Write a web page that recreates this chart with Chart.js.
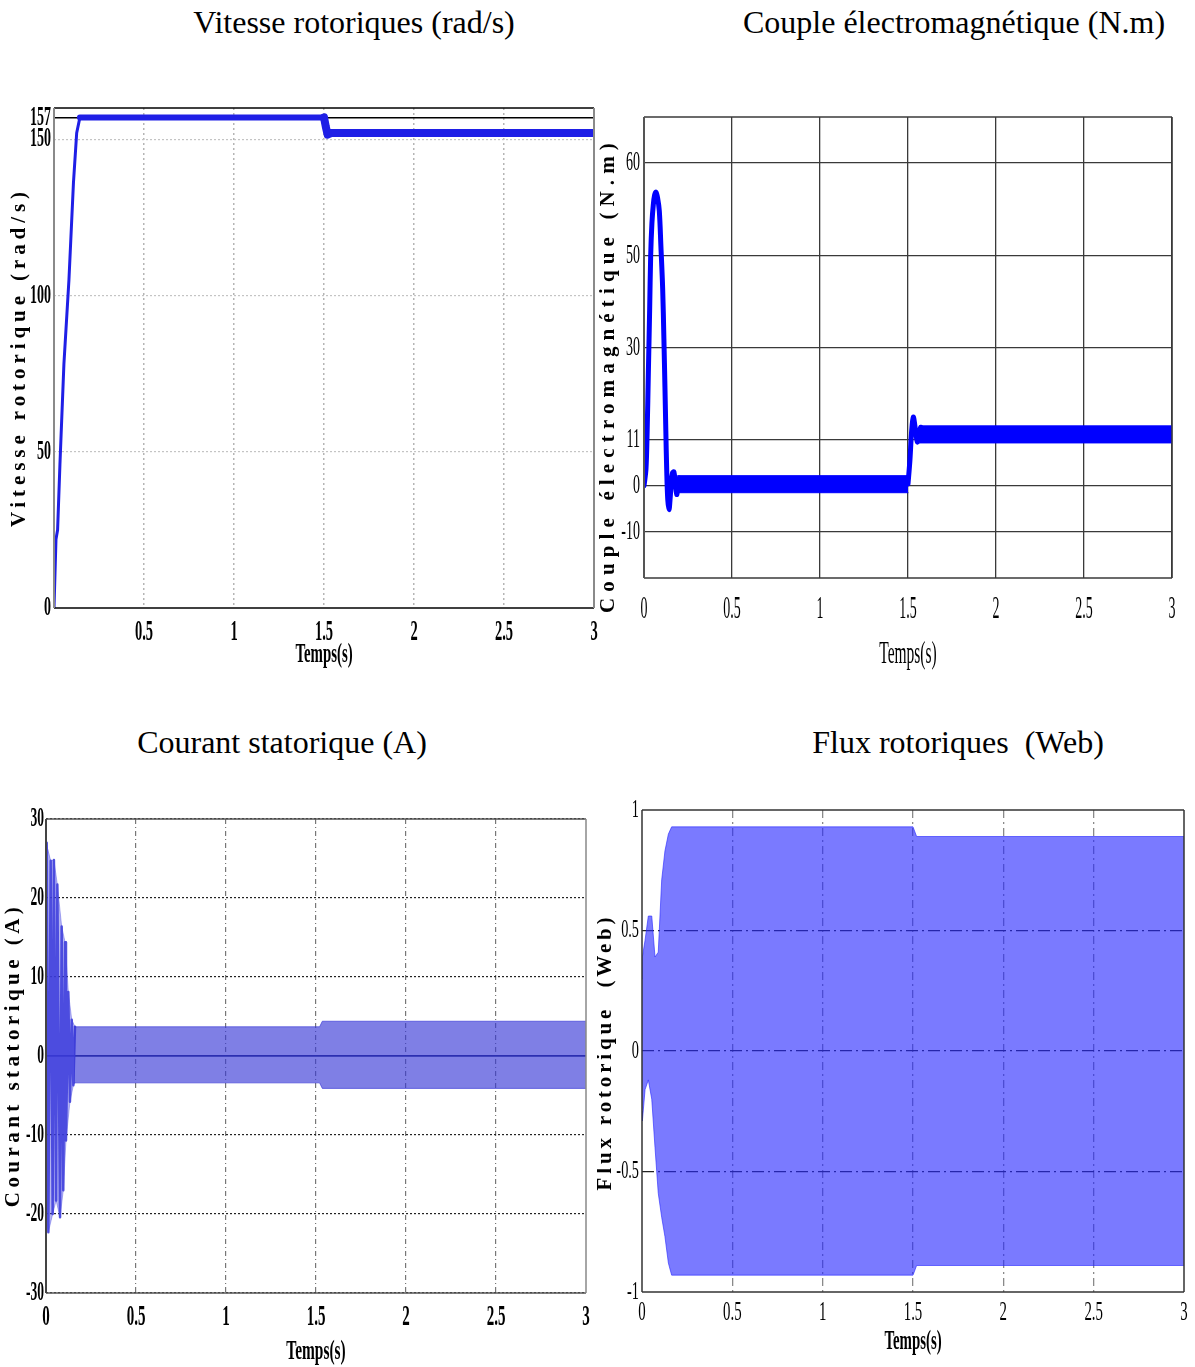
<!DOCTYPE html>
<html>
<head>
<meta charset="utf-8">
<script src="https://cdn.jsdelivr.net/npm/chart.js@4.4.1/dist/chart.umd.min.js"></script>
<style>
    body { margin: 0; background: #fff; width: 1195px; height: 1367px; position: relative; overflow: hidden; font-family: 'Liberation Serif', serif; }
    .heading { position: absolute; width: 600px; text-align: center; font-size: 32px; line-height: 38px; color: #000; white-space: pre; }
    canvas { position: absolute; }
</style>
</head>
<body>
<div class="heading" style="left:54px;top:3px">Vitesse rotoriques (rad/s)</div>
<div class="heading" style="left:654px;top:3px">Couple électromagnétique (N.m)</div>
<div class="heading" style="left:-18px;top:723px">Courant statorique (A)</div>
<div class="heading" style="left:658px;top:723px">Flux rotoriques  (Web)</div>

<canvas id="speed" width="600" height="600" style="left:0;top:80px"></canvas>
<canvas id="torque" width="598" height="600" style="left:597px;top:80px"></canvas>
<canvas id="current" width="600" height="577" style="left:0;top:790px"></canvas>
<canvas id="flux" width="598" height="577" style="left:597px;top:790px"></canvas>

<script>
'use strict'

const timeTicks = [0, 0.5, 1, 1.5, 2, 2.5, 3]

// vitesse rotorique (rad/s)
const speedTime = [0, 0.011, 0.02, 0.033, 0.055, 0.083, 0.108, 0.126, 0.144, 0.16, 0.8, 1.5, 1.51, 1.52, 1.54, 3]
const speedValues = [0, 22, 25, 46, 78, 105, 136, 152, 157, 157, 157, 157, 154, 151.5, 152, 152]
const speedTicks = [0, 50, 100, 150, 157]

// couple electromagnetique (N.m)
const torqueStartTime = [0, 0.011, 0.018, 0.025, 0.032, 0.038, 0.045, 0.053, 0.06, 0.068, 0.077, 0.087, 0.096, 0.106, 0.113, 0.119, 0.124, 0.129, 0.135, 0.142, 0.148, 0.155, 0.162, 0.17, 0.178, 0.186, 0.193, 0.2]
const torqueStartValues = [0, 3.5, 12, 25, 38, 50, 57, 61, 63, 63.7, 62.5, 59.6, 52, 42.8, 32, 21.4, 12, 3.5, -3, -5.2, -3, 0.6, 2.8, 3.0, 0.5, -1.9, 0, 1.7]
const torqueStepTime = [1.5, 1.511, 1.52, 1.53, 1.541, 1.553, 1.562, 1.572]
const torqueStepValues = [0.4, 5.6, 11.5, 14.9, 12.5, 9.5, 11.5, 12.7]
const torqueBand1Time = [0.19, 1.5]
const torqueBand1Upper = [2.2, 2.2]
const torqueBand1Lower = [-1.5, -1.5]
const torqueBand2Time = [1.565, 3]
const torqueBand2Upper = [13, 13]
const torqueBand2Lower = [9.3, 9.3]
const torqueTickValues = [-10, 0, 10, 30, 50, 70]
const torqueTickLabels = ['-10', '0', '11', '30', '50', '60']

// courant statorique (A)
const currentPeakTime = [0, 0.004, 0.013, 0.026, 0.037, 0.044, 0.056, 0.063, 0.078, 0.087, 0.096, 0.106, 0.111, 0.124, 0.133, 0.143, 0.152, 0.161]
const currentPeakValues = [0, 27, -22.3, 24.7, -20, 24.8, -18.3, 21.7, -20.4, 16.4, -17, 14.4, -10.7, 8.1, -5.8, 4.6, -3.7, 3.7]
const currentTopTime = [0, 0.004, 0.026, 0.044, 0.063, 0.087, 0.106, 0.124, 0.143, 0.161]
const currentTopValues = [27, 27, 24.7, 24.8, 21.7, 16.4, 14.4, 8.1, 4.6, 3.7]
const currentBottomTime = [0, 0.013, 0.037, 0.056, 0.078, 0.096, 0.111, 0.133, 0.152, 0.161]
const currentBottomValues = [-20, -22.3, -20, -18.3, -20.4, -17, -10.7, -5.8, -3.7, -3.4]
const currentBandTime = [0.155, 1.52, 1.535, 3]
const currentUpper = [3.7, 3.7, 4.4, 4.4]
const currentLower = [-3.4, -3.4, -4.1, -4.1]
const currentTicks = [-30, -20, -10, 0, 10, 20, 30]

// flux rotorique (Web)
const fluxTime = [0, 0.002, 0.017, 0.035, 0.054, 0.072, 0.09, 0.109, 0.127, 0.146, 0.164, 1.5, 1.52, 3]
const fluxUpper = [0.3, 0.39, 0.46, 0.56, 0.56, 0.39, 0.41, 0.71, 0.83, 0.9, 0.93, 0.93, 0.89, 0.89]
const fluxLower = [-0.25, -0.29, -0.16, -0.12, -0.2, -0.4, -0.59, -0.69, -0.77, -0.88, -0.93, -0.93, -0.89, -0.89]
const fluxTicks = [-1, -0.5, 0, 0.5, 1]


const SERIF = '"Liberation Serif", "Times New Roman", serif'

function pts(xs, ys) {
    return xs.map((x, i) => ({ x: x, y: ys[i] }))
}

function squashed(ctx, text, x, y, font, sx, align) {
    ctx.save()
    ctx.font = font
    ctx.fillStyle = '#000'
    ctx.textAlign = align
    ctx.textBaseline = 'middle'
    ctx.translate(x, y)
    ctx.scale(sx, 1)
    ctx.fillText(text, 0, 0)
    ctx.restore()
}

function edge(ctx, x1, y1, x2, y2, style) {
    ctx.save()
    ctx.strokeStyle = style[0]
    ctx.lineWidth = style[1]
    ctx.beginPath()
    ctx.moveTo(x1, y1)
    ctx.lineTo(x2, y2)
    ctx.stroke()
    ctx.restore()
}

// matlab-like box, narrow tick labels and spaced y title
const matlabLook = {
    id: 'matlab',
    afterDatasetsDraw(chart, args, o) {
        const { ctx, chartArea: a } = chart
        edge(ctx, a.left, a.top, a.right, a.top, o.box.top)
        edge(ctx, a.left, a.bottom, a.right, a.bottom, o.box.bottom)
        edge(ctx, a.left, a.top, a.left, a.bottom, o.box.left)
        edge(ctx, a.right, a.top, a.right, a.bottom, o.box.right)
    },
    afterDraw(chart, args, o) {
        const { ctx, chartArea: a, scales: { x, y } } = chart
        y.ticks.forEach(t => {
            squashed(ctx, t.label, a.left - o.yGap, y.getPixelForValue(t.value), o.yFont, o.ySquash, 'right')
        })
        x.ticks.forEach(t => {
            if (o.skipZero && t.value === 0) return
            squashed(ctx, t.label, x.getPixelForValue(t.value), a.bottom + o.xGap, o.xFont, o.xSquash, 'center')
        })
        squashed(ctx, 'Temps(s)', (a.left + a.right) / 2, a.bottom + o.xTitleGap, o.xTitleFont, o.xTitleSquash, 'center')

        ctx.save()
        ctx.font = o.yTitleFont
        ctx.fillStyle = '#000'
        ctx.letterSpacing = '0px'
        const natural = ctx.measureText(o.yTitle).width
        const gap = Math.max(0, (o.yTitleSpan - natural) / (o.yTitle.length - 1))
        ctx.letterSpacing = gap.toFixed(2) + 'px'
        ctx.translate(o.yTitleX, o.yTitleY)
        ctx.rotate(-Math.PI / 2)
        ctx.textAlign = 'center'
        ctx.textBaseline = 'middle'
        ctx.fillText(o.yTitle, 0, 0)
        ctx.restore()
    }
}

const plain = v => String(v)

function xScale(grid) {
    return {
        type: 'linear',
        min: 0,
        max: 3,
        afterBuildTicks: axis => { axis.ticks = timeTicks.map(v => ({ value: v })) },
        ticks: { display: false, callback: plain },
        grid: Object.assign({ drawTicks: false }, grid.grid),
        border: Object.assign({ display: false }, grid.border),
        afterFit: s => { s.height = 0 }
    }
}

function yScale(min, max, ticks, grid, cb) {
    return {
        type: 'linear',
        min: min,
        max: max,
        afterBuildTicks: axis => { axis.ticks = ticks.map(v => ({ value: v })) },
        ticks: { display: false, callback: cb || plain },
        grid: Object.assign({ drawTicks: false }, grid.grid),
        border: Object.assign({ display: false }, grid.border),
        afterFit: s => { s.width = 0 }
    }
}

function makeChart(id, datasets, padding, x, y, look) {
    const canvas = document.getElementById(id)
    return new Chart(canvas.getContext('2d'), {
        type: 'line',
        data: { datasets: datasets },
        options: {
            responsive: false,
            animation: false,
            layout: { padding: padding },
            elements: { point: { radius: 0 }, line: { tension: 0, borderJoinStyle: 'round', borderCapStyle: 'round' } },
            scales: { x: x, y: y },
            plugins: {
                legend: { display: false },
                tooltip: { enabled: false },
                matlab: look
            }
        },
        plugins: [matlabLook]
    })
}

function band(time, upper, lower, color, lowerTime) {
    return [
        { data: pts(time, upper), borderColor: color, borderWidth: 1, fill: false },
        { data: pts(lowerTime || time, lower), borderColor: color, borderWidth: 1, backgroundColor: color, fill: '-1' }
    ]
}


// ---- vitesse
makeChart('speed', [{
    data: pts(speedTime, speedValues),
    borderColor: '#1f1fe6',
    borderWidth: 6,
    fill: false,
    segment: {
        borderWidth: c => c.p0.parsed.x < 0.14 ? 3 : (c.p0.parsed.x >= 1.5 ? 8 : 6)
    }
}], { left: 54, top: 28, right: 6, bottom: 72 },
    xScale({
        grid: { color: c => (c.tick && (c.tick.value === 0 || c.tick.value === 3)) ? 'rgba(0,0,0,0)' : '#b5b5b5', lineWidth: 1.5 },
        border: { dash: [2, 3] }
    }),
    yScale(0, 160, speedTicks, {
        grid: { color: c => c.tick && c.tick.value === 157 ? '#000' : (c.tick && c.tick.value === 0 ? 'rgba(0,0,0,0)' : '#c4c4c4'), lineWidth: c => c.tick && c.tick.value === 157 ? 1.5 : 1.2 },
        border: { dash: c => c.tick && c.tick.value === 157 ? [] : [2, 2] }
    }),
    {
        box: { top: ['#000', 1.5], bottom: ['#000', 1.5], left: ['#8a8a8a', 2], right: ['#8a8a8a', 2] },
        yGap: 3, yFont: 'bold 28px ' + SERIF, ySquash: 0.5,
        xGap: 25, xFont: 'bold 29px ' + SERIF, xSquash: 0.5, skipZero: true,
        xTitleGap: 47, xTitleFont: 'bold 27px ' + SERIF, xTitleSquash: 0.55,
        yTitle: 'Vitesse rotorique (rad/s)', yTitleFont: 'bold 21px ' + SERIF,
        yTitleSpan: 335, yTitleX: 20, yTitleY: 277
    })

// ---- couple
makeChart('torque', [
    ...band(torqueBand1Time, torqueBand1Upper, torqueBand1Lower, '#0000ff'),
    ...band(torqueBand2Time, torqueBand2Upper, torqueBand2Lower, '#0000ff'),
    { data: pts(torqueStartTime, torqueStartValues), borderColor: '#0000ff', borderWidth: 5, fill: false, tension: 0.35 },
    { data: pts(torqueStepTime, torqueStepValues), borderColor: '#0000ff', borderWidth: 5, fill: false, tension: 0.35 }
], { left: 47, top: 37, right: 23, bottom: 102 },
    xScale({ grid: { color: '#3a3a3a', lineWidth: 1.3 }, border: { dash: [] } }),
    yScale(-20, 80, torqueTickValues, { grid: { color: '#3a3a3a', lineWidth: 1.3 }, border: { dash: [] } },
        v => torqueTickLabels[torqueTickValues.indexOf(v)]),
    {
        box: { top: ['#3a3a3a', 1.5], bottom: ['#3a3a3a', 1.5], left: ['#555', 2], right: ['#3a3a3a', 1.5] },
        yGap: 4, yFont: '28px ' + SERIF, ySquash: 0.5,
        xGap: 32, xFont: '31px ' + SERIF, xSquash: 0.45, skipZero: false,
        xTitleGap: 77, xTitleFont: '31px ' + SERIF, xTitleSquash: 0.5,
        yTitle: 'Couple électromagnétique (N.m)', yTitleFont: 'bold 21px ' + SERIF,
        yTitleSpan: 470, yTitleX: 12, yTitleY: 295
    })

// ---- courant
makeChart('current', [
    ...band(currentBandTime, currentUpper, currentLower, 'rgba(55,55,215,0.64)'),
    ...band(currentTopTime, currentTopValues, currentBottomValues, 'rgba(70,70,225,0.4)', currentBottomTime),
    { data: pts(currentPeakTime, currentPeakValues), borderColor: 'rgba(50,50,215,0.85)', borderWidth: 2.5, fill: false }
], { left: 46, top: 29, right: 14, bottom: 74 },
    xScale({
        grid: { color: c => (c.tick && (c.tick.value === 0 || c.tick.value === 3)) ? 'rgba(0,0,0,0)' : '#777', lineWidth: 1.2 },
        border: { dash: [5, 3, 1, 3] }
    }),
    yScale(-30, 30, currentTicks, {
        grid: { color: c => c.tick && c.tick.value === 0 ? '#1a2270' : '#222', lineWidth: c => c.tick && c.tick.value === 0 ? 1.8 : 1.2 },
        border: { dash: c => c.tick && c.tick.value === 0 ? [] : [2, 2] }
    }),
    {
        box: { top: ['#555', 1.5], bottom: ['#555', 1.5], left: ['#444', 2], right: ['#888', 1.5] },
        yGap: 2, yFont: 'bold 27px ' + SERIF, ySquash: 0.5,
        xGap: 24, xFont: 'bold 30px ' + SERIF, xSquash: 0.5, skipZero: false,
        xTitleGap: 59, xTitleFont: 'bold 28px ' + SERIF, xTitleSquash: 0.55,
        yTitle: 'Courant statorique (A)', yTitleFont: 'bold 21px ' + SERIF,
        yTitleSpan: 300, yTitleX: 14, yTitleY: 265
    })

// ---- flux
makeChart('flux', [
    ...band(fluxTime, fluxUpper, fluxLower, 'rgba(40,40,255,0.62)')
], { left: 45, top: 20, right: 11, bottom: 75 },
    xScale({
        grid: { color: c => (c.tick && (c.tick.value === 0 || c.tick.value === 3)) ? 'rgba(0,0,0,0)' : '#8a8a8a', lineWidth: 1.3 },
        border: { dash: [8, 4, 2, 4] }
    }),
    yScale(-1, 1, fluxTicks, {
        grid: { color: c => (c.tick && Math.abs(c.tick.value) === 1) ? 'rgba(0,0,0,0)' : '#222', lineWidth: 1.2 },
        border: { dash: [12, 4, 2, 4] }
    }),
    {
        box: { top: ['#333', 1.5], bottom: ['#333', 1.5], left: ['#333', 1.5], right: ['#333', 1.5] },
        yGap: 3, yFont: '26px ' + SERIF, ySquash: 0.55,
        xGap: 21, xFont: '27px ' + SERIF, xSquash: 0.55, skipZero: false,
        xTitleGap: 50, xTitleFont: 'bold 27px ' + SERIF, xTitleSquash: 0.55,
        yTitle: 'Flux rotorique  (Web)', yTitleFont: 'bold 21px ' + SERIF,
        yTitleSpan: 273, yTitleX: 9, yTitleY: 262
    })
</script>
</body>
</html>
